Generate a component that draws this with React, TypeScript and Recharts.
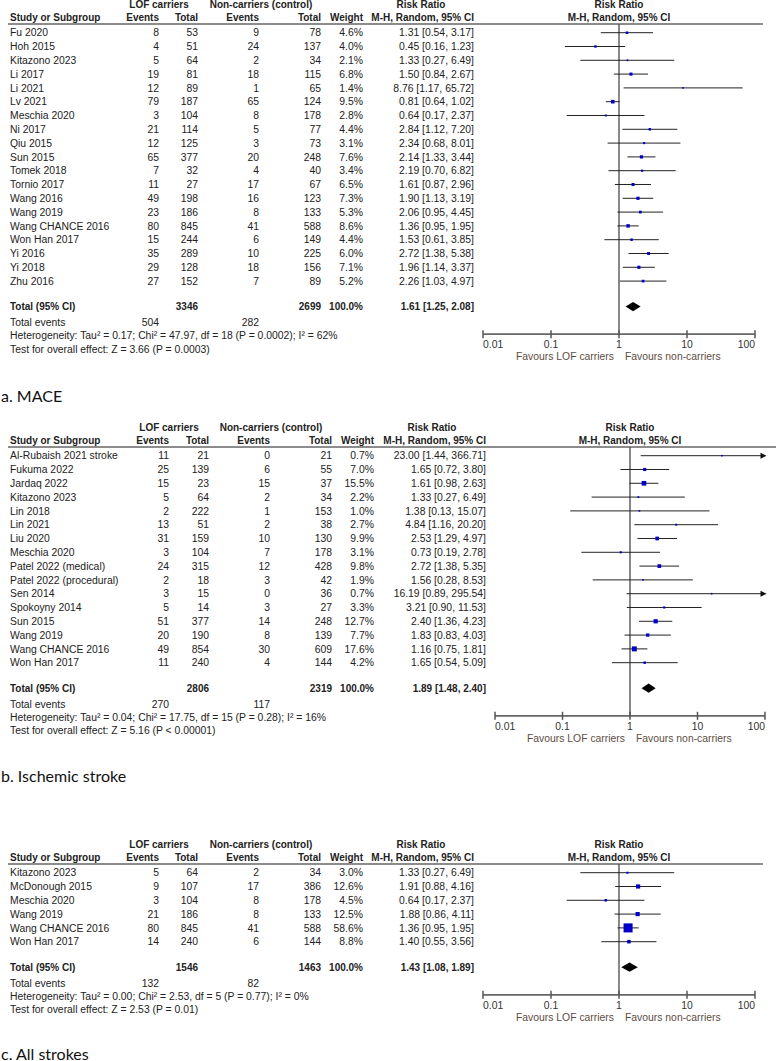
import React from 'react';
import {
  ComposedChart,
  Scatter,
  Line,
  XAxis,
  YAxis,
  ReferenceLine,
  ErrorBar,
  Customized,
} from 'recharts';

const FONT = '"Liberation Sans", Arial, Helvetica, sans-serif';
const FS = 10.4;
const FS_BOLD = 10.0;
const INK = '#222';
const FAV = '#5c4d42';
const ROW = 13.8;
const TICKS = [0.01, 0.1, 1, 10, 100];

// a. MACE
const maceNames = ['Fu 2020', 'Hoh 2015', 'Kitazono 2023', 'Li 2017', 'Li 2021', 'Lv 2021', 'Meschia 2020', 'Ni 2017', 'Qiu 2015', 'Sun 2015', 'Tomek 2018', 'Tornio 2017', 'Wang 2016', 'Wang 2019', 'Wang CHANCE 2016', 'Won Han 2017', 'Yi 2016', 'Yi 2018', 'Zhu 2016'];
const maceLofEvents = [8, 4, 5, 19, 12, 79, 3, 21, 12, 65, 7, 11, 49, 23, 80, 15, 35, 29, 27];
const maceLofTotal = [53, 51, 64, 81, 89, 187, 104, 114, 125, 377, 32, 27, 198, 186, 845, 244, 289, 128, 152];
const maceCtrlEvents = [9, 24, 2, 18, 1, 65, 8, 5, 3, 20, 4, 17, 16, 8, 41, 6, 10, 18, 7];
const maceCtrlTotal = [78, 137, 34, 115, 65, 124, 178, 77, 73, 248, 40, 67, 123, 133, 588, 149, 225, 156, 89];
const maceWeight = [4.6, 4.0, 2.1, 6.8, 1.4, 9.5, 2.8, 4.4, 3.1, 7.6, 3.4, 6.5, 7.3, 5.3, 8.6, 4.4, 6.0, 7.1, 5.2];
const maceRR = [1.31, 0.45, 1.33, 1.5, 8.76, 0.81, 0.64, 2.84, 2.34, 2.14, 2.19, 1.61, 1.9, 2.06, 1.36, 1.53, 2.72, 1.96, 2.26];
const maceLow = [0.54, 0.16, 0.27, 0.84, 1.17, 0.64, 0.17, 1.12, 0.68, 1.33, 0.7, 0.87, 1.13, 0.95, 0.95, 0.61, 1.38, 1.14, 1.03];
const maceHigh = [3.17, 1.23, 6.49, 2.67, 65.72, 1.02, 2.37, 7.2, 8.01, 3.44, 6.82, 2.96, 3.19, 4.45, 1.95, 3.85, 5.38, 3.37, 4.97];
const maceTotals = [3346, 2699];
const maceTotalEvents = [504, 282];
const maceOverall = [1.61, 1.25, 2.08];
const maceHet = 'Heterogeneity: Tau² = 0.17; Chi² = 47.97, df = 18 (P = 0.0002); I² = 62%';
const maceTest = 'Test for overall effect: Z = 3.66 (P = 0.0003)';

// b. Ischemic stroke
const isNames = ['Al-Rubaish 2021 stroke', 'Fukuma 2022', 'Jardaq 2022', 'Kitazono 2023', 'Lin 2018', 'Lin 2021', 'Liu 2020', 'Meschia 2020', 'Patel 2022 (medical)', 'Patel 2022 (procedural)', 'Sen 2014', 'Spokoyny 2014', 'Sun 2015', 'Wang 2019', 'Wang CHANCE 2016', 'Won Han 2017'];
const isLofEvents = [11, 25, 15, 5, 2, 13, 31, 3, 24, 2, 3, 5, 51, 20, 49, 11];
const isLofTotal = [21, 139, 23, 64, 222, 51, 159, 104, 315, 18, 15, 14, 377, 190, 854, 240];
const isCtrlEvents = [0, 6, 15, 2, 1, 2, 10, 7, 12, 3, 0, 3, 14, 8, 30, 4];
const isCtrlTotal = [21, 55, 37, 34, 153, 38, 130, 178, 428, 42, 36, 27, 248, 139, 609, 144];
const isWeight = [0.7, 7.0, 15.5, 2.2, 1.0, 2.7, 9.9, 3.1, 9.8, 1.9, 0.7, 3.3, 12.7, 7.7, 17.6, 4.2];
const isRR = [23.0, 1.65, 1.61, 1.33, 1.38, 4.84, 2.53, 0.73, 2.72, 1.56, 16.19, 3.21, 2.4, 1.83, 1.16, 1.65];
const isLow = [1.44, 0.72, 0.98, 0.27, 0.13, 1.16, 1.29, 0.19, 1.38, 0.28, 0.89, 0.9, 1.36, 0.83, 0.75, 0.54];
const isHigh = [366.71, 3.8, 2.63, 6.49, 15.07, 20.2, 4.97, 2.78, 5.35, 8.53, 295.54, 11.53, 4.23, 4.03, 1.81, 5.09];
const isTotals = [2806, 2319];
const isTotalEvents = [270, 117];
const isOverall = [1.89, 1.48, 2.4];
const isHet = 'Heterogeneity: Tau² = 0.04; Chi² = 17.75, df = 15 (P = 0.28); I² = 16%';
const isTest = 'Test for overall effect: Z = 5.16 (P < 0.00001)';

// c. All strokes
const asNames = ['Kitazono 2023', 'McDonough 2015', 'Meschia 2020', 'Wang 2019', 'Wang CHANCE 2016', 'Won Han 2017'];
const asLofEvents = [5, 9, 3, 21, 80, 14];
const asLofTotal = [64, 107, 104, 186, 845, 240];
const asCtrlEvents = [2, 17, 8, 8, 41, 6];
const asCtrlTotal = [34, 386, 178, 133, 588, 144];
const asWeight = [3.0, 12.6, 4.5, 12.5, 58.6, 8.8];
const asRR = [1.33, 1.91, 0.64, 1.88, 1.36, 1.4];
const asLow = [0.27, 0.88, 0.17, 0.86, 0.95, 0.55];
const asHigh = [6.49, 4.16, 2.37, 4.11, 1.95, 3.56];
const asTotals = [1546, 1463];
const asTotalEvents = [132, 82];
const asOverall = [1.43, 1.08, 1.89];
const asHet = 'Heterogeneity: Tau² = 0.00; Chi² = 2.53, df = 5 (P = 0.77); I² = 0%';
const asTest = 'Test for overall effect: Z = 2.53 (P = 0.01)';

type Cols = { ev1: number; n1: number; ev2: number; n2: number; wt: number; ci: number; lof: number; ctrl: number; rrHead: number };

const colsWide: Cols = { ev1: 159, n1: 198, ev2: 259, n2: 321, wt: 363, ci: 474, lof: 159, ctrl: 261, rrHead: 421 };
const colsB: Cols = { ev1: 169, n1: 209, ev2: 270, n2: 332, wt: 374, ci: 486, lof: 169, ctrl: 271, rrHead: 432 };

interface PanelData {
  names: string[];
  lofEvents: number[];
  lofTotal: number[];
  ctrlEvents: number[];
  ctrlTotal: number[];
  weight: number[];
  rr: number[];
  low: number[];
  high: number[];
  totals: number[];
  totalEvents: number[];
  overall: number[];
  het: string;
  test: string;
}

const T = ({ x, y, anchor = 'end', bold = false, fill = INK, children }: any) => (
  <text
    x={x}
    y={y}
    dy="0.36em"
    textAnchor={anchor}
    fontFamily={FONT}
    fontSize={bold ? FS_BOLD : FS}
    fontWeight={bold ? 700 : 400}
    fill={fill}
  >
    {children}
  </text>
);

const f2 = (v: number) => v.toFixed(2);
const ciText = (r: number, l: number, h: number) => `${f2(r)} [${f2(l)}, ${f2(h)}]`;

const W = 776;
const MT = 24;
const AXIS_H = 40;

const Panel: React.FC<{ d: PanelData; cols: Cols; top: number; left: number; right: number; lineEnd: number }> = ({ d, cols, top, left, right, lineEnd }) => {
  const n = d.names.length;
  const topIdx = -0.63;
  const totalIdx = n - 1 + 1.85;
  const eventsIdx = totalIdx + 1.13;
  const axisIdx = totalIdx + 2;
  const height = MT + (axisIdx - topIdx) * ROW + AXIS_H;
  const mid = left + (W - left - right) / 2;

  const textRows = [
    ...d.names.map((_, i) => ({ x: 1, y: i, kind: 'study', i })),
    { x: 1, y: totalIdx, kind: 'total', i: -1 },
    { x: 1, y: eventsIdx, kind: 'events', i: -1 },
  ];
  const studyPoints = d.rr.map((v, i) => ({
    x: v,
    y: i,
    w: d.weight[i],
    err: [v - d.low[i], Math.min(d.high[i], 100) - v],
  }));
  const arrowPoints = d.high
    .map((h, i) => ({ x: 100, y: i, h }))
    .filter((p) => p.h > 100);
  const diamond = [d.overall[1], d.overall[0], d.overall[2]].map((x) => ({ x, y: totalIdx }));

  const renderRow = (p: any) => {
    const { cy } = p;
    const r = p.payload ?? p;
    if (r.kind === 'study') {
      const i = r.i;
      return (
        <g>
          <T x={10} y={cy} anchor="start">{d.names[i]}</T>
          <T x={cols.ev1} y={cy}>{d.lofEvents[i]}</T>
          <T x={cols.n1} y={cy}>{d.lofTotal[i]}</T>
          <T x={cols.ev2} y={cy}>{d.ctrlEvents[i]}</T>
          <T x={cols.n2} y={cy}>{d.ctrlTotal[i]}</T>
          <T x={cols.wt} y={cy}>{d.weight[i].toFixed(1)}%</T>
          <T x={cols.ci} y={cy}>{ciText(d.rr[i], d.low[i], d.high[i])}</T>
        </g>
      );
    }
    if (r.kind === 'total') {
      return (
        <g>
          <T x={10} y={cy} anchor="start" bold>Total (95% CI)</T>
          <T x={cols.n1} y={cy} bold>{d.totals[0]}</T>
          <T x={cols.n2} y={cy} bold>{d.totals[1]}</T>
          <T x={cols.wt} y={cy} bold>100.0%</T>
          <T x={cols.ci} y={cy} bold>{ciText(d.overall[0], d.overall[1], d.overall[2])}</T>
        </g>
      );
    }
    return (
      <g>
        <T x={10} y={cy} anchor="start">Total events</T>
        <T x={cols.ev1} y={cy}>{d.totalEvents[0]}</T>
        <T x={cols.ev2} y={cy}>{d.totalEvents[1]}</T>
        <T x={10} y={cy + ROW * 0.97} anchor="start">{d.het}</T>
        <T x={10} y={cy + ROW * 1.94} anchor="start">{d.test}</T>
      </g>
    );
  };

  const renderSquare = (p: any) => {
    const w = p.payload?.w ?? p.w ?? 1;
    const s = Math.max(1.6, 1.18 * Math.sqrt(w));
    return <rect x={p.cx - s / 2} y={p.cy - s / 2} width={s} height={s} fill="#0000c8" />;
  };

  const renderArrow = (p: any) => (
    <polygon
      points={`${p.cx - 4.5},${p.cy - 3} ${p.cx + 1.5},${p.cy} ${p.cx - 4.5},${p.cy + 3}`}
      fill="#111"
    />
  );

  const renderDiamond = (p: any) => {
    const { index, cx, cy, points } = p;
    if (index !== 1) return <g key={`dd-${index}`} />;
    const l = points ? points[0].x : cx - 6;
    const r = points ? points[2].x : cx + 6;
    return (
      <polygon
        key="diamond"
        points={`${l},${cy} ${cx},${cy - 4.6} ${r},${cy} ${cx},${cy + 4.6}`}
        fill="#000"
      />
    );
  };

  const renderTick = (p: any) => {
    const { x, y, payload, index } = p;
    const v = payload.value;
    const anchor = index === 0 ? 'start' : index === TICKS.length - 1 ? 'end' : 'middle';
    return (
      <g>
        <line x1={x} x2={x} y1={y - 4} y2={y + 4} stroke="#555" strokeWidth={1.5} />
        <T x={x} y={y + 10} anchor={anchor} fill="#333">{String(v)}</T>
        {v === 1 && (
          <>
            <T x={x - 5} y={y + 22.5} anchor="end" fill={FAV}>Favours LOF carriers</T>
            <T x={x + 6} y={y + 22.5} anchor="start" fill={FAV}>Favours non-carriers</T>
          </>
        )}
      </g>
    );
  };

  const Header = () => (
    <g>
      <T x={cols.lof} y={MT - 19.5} anchor="middle" bold>LOF carriers</T>
      <T x={cols.ctrl} y={MT - 19.5} anchor="middle" bold>Non-carriers (control)</T>
      <T x={cols.rrHead} y={MT - 19.5} anchor="middle" bold>Risk Ratio</T>
      <T x={mid} y={MT - 19.5} anchor="middle" bold>Risk Ratio</T>
      <T x={10} y={MT - 6.3} anchor="start" bold>Study or Subgroup</T>
      <T x={cols.ev1} y={MT - 6.3} bold>Events</T>
      <T x={cols.n1} y={MT - 6.3} bold>Total</T>
      <T x={cols.ev2} y={MT - 6.3} bold>Events</T>
      <T x={cols.n2} y={MT - 6.3} bold>Total</T>
      <T x={cols.wt} y={MT - 6.3} bold>Weight</T>
      <T x={cols.ci} y={MT - 6.3} bold>M-H, Random, 95% CI</T>
      <T x={mid} y={MT - 6.3} anchor="middle" bold>M-H, Random, 95% CI</T>
      <line x1={8} x2={lineEnd} y1={MT} y2={MT} stroke="#666" strokeWidth={1.5} />
    </g>
  );

  return (
    <div style={{ position: 'absolute', left: 0, top }}>
      <ComposedChart width={W} height={height} margin={{ top: MT, right, left, bottom: 0 }}>
        <XAxis
          type="number"
          dataKey="x"
          scale="log"
          domain={[0.01, 100]}
          ticks={TICKS}
          interval={0}
          tickLine={false}
          tickSize={0}
          tickMargin={0}
          height={AXIS_H}
          axisLine={{ stroke: '#666', strokeWidth: 1.8 }}
          tick={renderTick}
        />
        <YAxis type="number" dataKey="y" domain={[topIdx, axisIdx]} reversed hide width={0} />
        <Customized component={Header} />
        <ReferenceLine x={1} stroke="#555" strokeWidth={1.4} />
        <Scatter data={textRows} shape={renderRow} isAnimationActive={false} />
        <Scatter data={studyPoints} shape={renderSquare} isAnimationActive={false}>
          <ErrorBar dataKey="err" direction="x" width={0} stroke="#222" strokeWidth={1} />
        </Scatter>
        <Scatter data={arrowPoints} shape={renderArrow} isAnimationActive={false} />
        <Line
          data={diamond}
          dataKey="y"
          stroke="none"
          dot={renderDiamond}
          activeDot={false}
          isAnimationActive={false}
        />
      </ComposedChart>
    </div>
  );
};

const mace: PanelData = {
  names: maceNames, lofEvents: maceLofEvents, lofTotal: maceLofTotal, ctrlEvents: maceCtrlEvents,
  ctrlTotal: maceCtrlTotal, weight: maceWeight, rr: maceRR, low: maceLow, high: maceHigh,
  totals: maceTotals, totalEvents: maceTotalEvents, overall: maceOverall, het: maceHet, test: maceTest,
};
const ischemic: PanelData = {
  names: isNames, lofEvents: isLofEvents, lofTotal: isLofTotal, ctrlEvents: isCtrlEvents,
  ctrlTotal: isCtrlTotal, weight: isWeight, rr: isRR, low: isLow, high: isHigh,
  totals: isTotals, totalEvents: isTotalEvents, overall: isOverall, het: isHet, test: isTest,
};
const allStrokes: PanelData = {
  names: asNames, lofEvents: asLofEvents, lofTotal: asLofTotal, ctrlEvents: asCtrlEvents,
  ctrlTotal: asCtrlTotal, weight: asWeight, rr: asRR, low: asLow, high: asHigh,
  totals: asTotals, totalEvents: asTotalEvents, overall: asOverall, het: asHet, test: asTest,
};

export default function App() {
  const cap = { fontFamily: 'Lato, "Open Sans", sans-serif', fontSize: 16, fill: '#111' };
  return (
    <div style={{ position: 'absolute', left: 0, top: 0, width: 776, height: 1061, overflow: 'hidden', background: '#fff' }}>
      <svg width={776} height={1061} style={{ position: 'absolute', left: 0, top: 0 }}>
        <text x={1} y={401.5} {...cap}>a. MACE</text>
        <text x={1} y={781.5} {...cap}>b. Ischemic stroke</text>
        <text x={1} y={1059.5} {...cap}>c. All strokes</text>
      </svg>
      <Panel d={mace} cols={colsWide} top={0} left={483} right={21} lineEnd={763} />
      <Panel d={ischemic} cols={colsB} top={423} left={495} right={11} lineEnd={776} />
      <Panel d={allStrokes} cols={colsWide} top={840} left={483} right={21} lineEnd={763} />
    </div>
  );
}
